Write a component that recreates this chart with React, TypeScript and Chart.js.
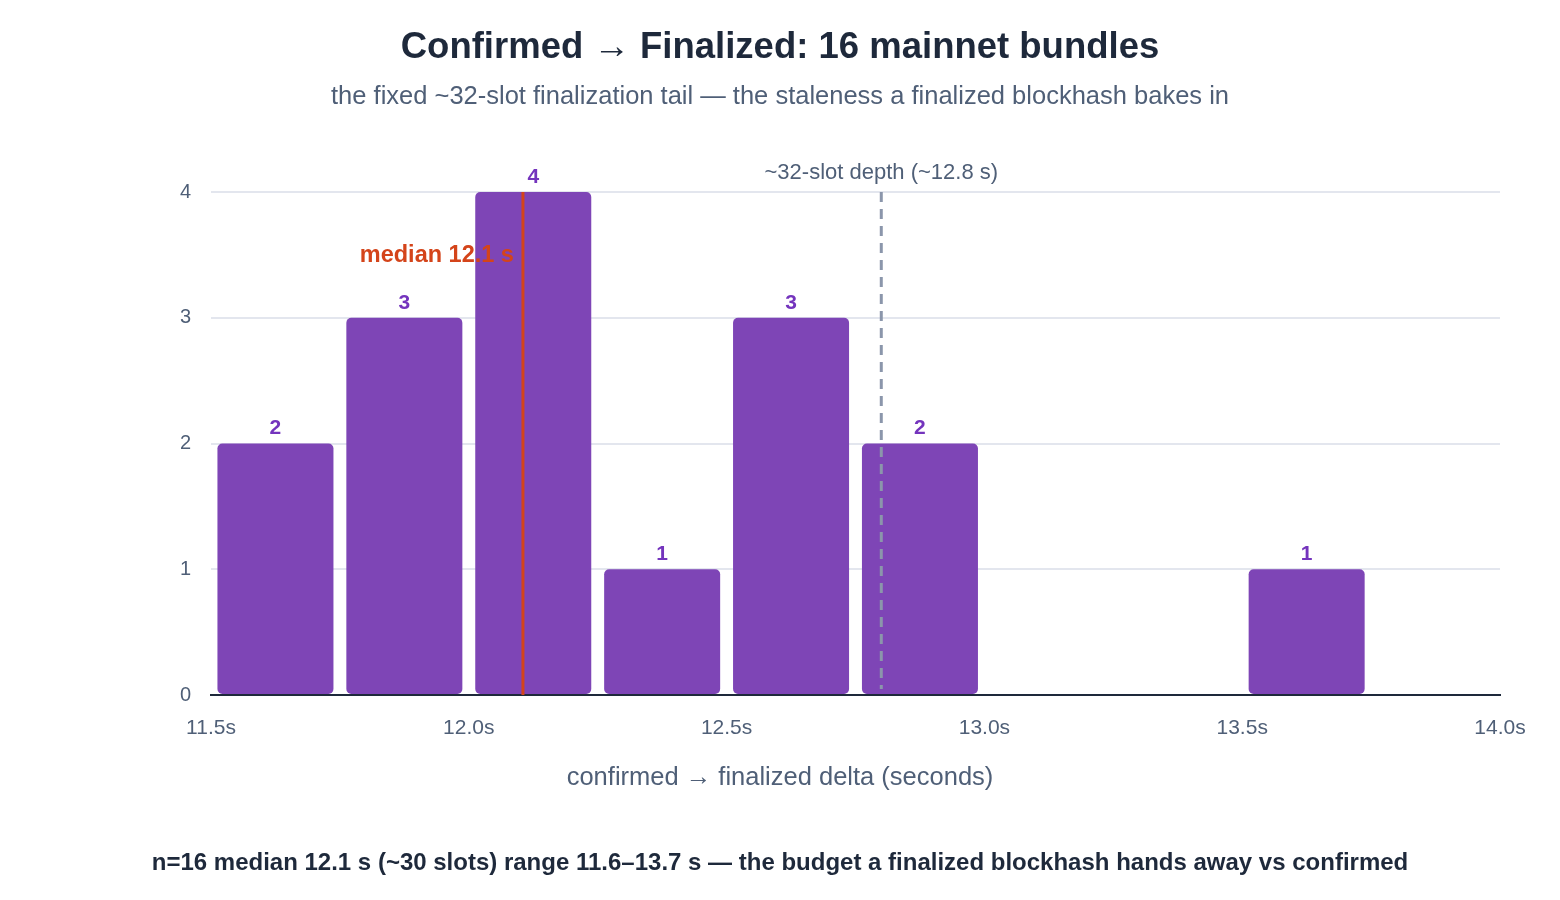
import React, { useEffect, useRef } from "react";
import { Chart, registerables } from "chart.js";

Chart.register(...registerables);

const binLabels = ["11.50–11.75", "11.75–12.00", "12.00–12.25", "12.25–12.50", "12.50–12.75", "12.75–13.00", "13.00–13.25", "13.25–13.50", "13.50–13.75", "13.75–14.00"];
const binCounts = [2, 3, 4, 1, 3, 2, 0, 0, 1, 0];
const xRange = [11.5, 14.0];
const xStep = 0.5;
const yTicks = [0, 1, 2, 3, 4];
const medianValue = 12.105;
const medianLabel = "median 12.1 s";
const depthValue = 12.8;
const depthLabel = "~32-slot depth (~12.8 s)";
const titleText = "Confirmed → Finalized: 16 mainnet bundles";
const subtitleText = "the fixed ~32-slot finalization tail — the staleness a finalized blockhash bakes in";
const xTitleText = "confirmed → finalized delta (seconds)";
const footerText = "n=16 median 12.1 s (~30 slots) range 11.6–13.7 s — the budget a finalized blockhash hands away vs confirmed";

const FONT = '"Liberation Sans", Arial, Helvetica, sans-serif';
const BAR = "#7e45b6";
const LABEL_PURPLE = "#7434bd";
const MEDIAN = "#d4441a";
const DASH = "#8b96ab";
const SLATE = "#4f5f77";
const DARK = "#1e293b";

const overlayPlugin = {
  id: "overlay",
  afterDatasetsDraw(chart: any) {
    const { ctx, chartArea, scales } = chart;
    const x2 = scales.x2;
    const y = scales.y;
    const meta = chart.getDatasetMeta(0);
    ctx.save();
    // value labels
    ctx.font = `bold 21px ${FONT}`;
    ctx.fillStyle = LABEL_PURPLE;
    ctx.textAlign = "center";
    ctx.textBaseline = "middle";
    meta.data.forEach((el: any, i: number) => {
      const v = binCounts[i];
      if (v > 0) ctx.fillText(String(v), el.x, el.y - 15);
    });
    // dashed depth line
    const dx = x2.getPixelForValue(depthValue);
    ctx.strokeStyle = DASH;
    ctx.lineWidth = 3;
    ctx.setLineDash([10, 7]);
    ctx.beginPath();
    ctx.moveTo(dx, chartArea.top);
    ctx.lineTo(dx, chartArea.bottom - 6);
    ctx.stroke();
    ctx.setLineDash([]);
    ctx.font = `22px ${FONT}`;
    ctx.fillStyle = SLATE;
    ctx.textAlign = "center";
    ctx.fillText(depthLabel, dx, chartArea.top - 19);
    // median line
    const mx = x2.getPixelForValue(medianValue);
    ctx.strokeStyle = MEDIAN;
    ctx.lineWidth = 3;
    ctx.beginPath();
    ctx.moveTo(mx, chartArea.top);
    ctx.lineTo(mx, chartArea.bottom);
    ctx.stroke();
    ctx.font = `bold 23.5px ${FONT}`;
    ctx.fillStyle = MEDIAN;
    ctx.textAlign = "right";
    ctx.fillText(medianLabel, mx - 9, y.getPixelForValue(3.5) + 1);
    ctx.restore();
  },
  afterDraw(chart: any) {
    const { ctx } = chart;
    const cx = 780;
    ctx.save();
    ctx.textAlign = "center";
    ctx.textBaseline = "middle";
    ctx.fillStyle = DARK;
    ctx.font = `bold 36.5px ${FONT}`;
    ctx.fillText(titleText, cx, 48);
    ctx.fillStyle = SLATE;
    ctx.font = `25.5px ${FONT}`;
    ctx.fillText(subtitleText, cx, 97);
    ctx.font = `25.5px ${FONT}`;
    ctx.fillText(xTitleText, cx, 778);
    ctx.fillStyle = DARK;
    ctx.font = `bold 24px ${FONT}`;
    ctx.fillText(footerText, cx, 863);
    ctx.restore();
  },
};

export default function App() {
  const ref = useRef<HTMLCanvasElement>(null);
  useEffect(() => {
    if (!ref.current) return;
    Chart.defaults.font.family = FONT;
    const chart = new Chart(ref.current, {
      type: "bar",
      data: {
        labels: binLabels,
        datasets: [
          {
            label: "bundles",
            data: binCounts,
            backgroundColor: BAR,
            borderWidth: 0,
            borderRadius: 5,
            borderSkipped: false,
            barPercentage: 0.9,
            categoryPercentage: 1,
          },
        ],
      },
      options: {
        animation: false,
        responsive: true,
        maintainAspectRatio: false,
        layout: { padding: { top: 192, right: 60, left: 0, bottom: 0 } },
        plugins: {
          legend: { display: false },
          tooltip: { enabled: false },
          title: { display: false },
        },
        scales: {
          x: { type: "category", display: false, offset: true },
          x2: {
            type: "linear",
            position: "bottom",
            offset: false,
            min: xRange[0],
            max: xRange[1],
            afterBuildTicks: (s: any) => {
              const t = [];
              for (let v = xRange[0]; v <= xRange[1] + 1e-9; v += xStep) t.push({ value: v });
              s.ticks = t;
            },
            ticks: {
              callback: (v: any) => Number(v).toFixed(1) + "s",
              color: SLATE,
              font: { size: 21 },
              padding: 21,
              maxRotation: 0,
              autoSkip: false,
            },
            grid: { display: false, drawTicks: false, offset: false },
            border: { display: true, color: DARK, width: 2 },
            afterFit: (s: any) => {
              s.height = 205;
            },
          },
          y: {
            min: 0,
            max: 4,
            afterBuildTicks: (s: any) => {
              s.ticks = yTicks.map((v) => ({ value: v }));
            },
            ticks: { color: SLATE, font: { size: 20 }, padding: 20 },
            grid: { color: "#e3e6ee", lineWidth: 2, drawTicks: false },
            border: { display: false },
            afterFit: (s: any) => {
              s.width = 211;
            },
          },
        },
      },
      plugins: [overlayPlugin],
    });
    return () => chart.destroy();
  }, []);
  return (
    <div style={{ position: "absolute", left: 0, top: 0, width: 1560, height: 900, background: "#fff" }}>
      <canvas ref={ref} />
    </div>
  );
}
